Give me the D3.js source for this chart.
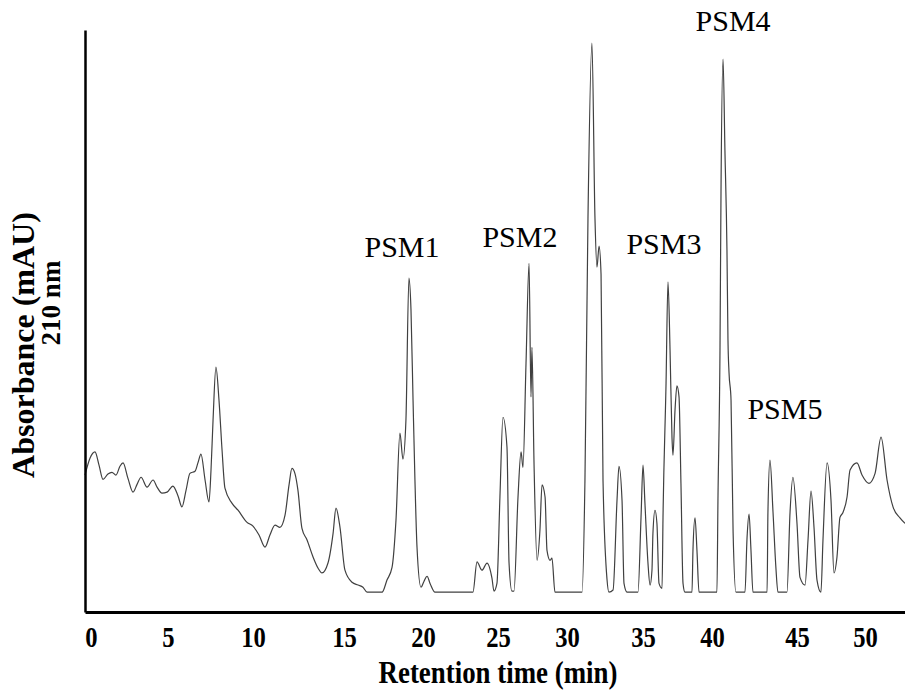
<!DOCTYPE html>
<html>
<head>
<meta charset="utf-8">
<script src="https://cdn.jsdelivr.net/npm/d3@7"></script>
<style>
  html, body { margin: 0; padding: 0; background: #fff; }
  svg { display: block; }
</style>
</head>
<body>
<svg id="chart" width="905" height="693"></svg>
<script>
// ---- data ----
const xTickValues = [0, 5, 10, 15, 20, 25, 30, 35, 40, 45, 50];
const xTickLabels = ["0", "5", "10", "15", "20", "25", "30", "35", "40", "45", "50"];

// retention time (min)
const time = [
  -0.39, -0.06, 0.26, 0.52, 0.78, 1.10, 1.36, 1.62, 1.88, 2.08,
  2.40, 2.73, 2.99, 3.25, 3.64, 4.03, 4.29, 4.61, 4.94, 5.29,
  5.59, 5.82, 6.06, 6.29, 6.59, 6.76, 6.94, 7.18, 7.41, 7.53,
  7.65, 7.82, 8.00, 8.18, 8.35, 8.76, 9.12, 9.65, 10.00, 10.33,
  10.66, 10.93, 11.21, 11.48, 11.76, 11.98, 12.14, 12.31, 12.47, 12.69,
  12.97, 13.30, 13.57, 13.79, 14.12, 14.40, 14.56, 14.78, 15.06, 15.51,
  15.89, 16.20, 16.46, 17.41, 17.72, 18.04, 18.29, 18.54, 18.73, 18.92,
  19.11, 19.24, 19.37, 19.49, 19.62, 19.87, 20.07, 20.27, 20.47, 20.80,
  23.33, 23.60, 23.93, 24.27, 24.60, 24.73, 24.93, 25.14, 25.36, 25.65,
  25.80, 26.01, 26.16, 26.45, 26.67, 26.81, 27.03, 27.25, 27.39, 27.46,
  27.61, 27.83, 28.04, 28.19, 28.41, 28.55, 28.77, 28.91, 29.13, 30.99,
  31.18, 31.38, 31.64, 31.84, 31.97, 32.11, 32.24, 32.37, 32.63, 32.76,
  33.03, 33.29, 33.42, 33.62, 33.75, 33.95, 34.67, 34.87, 35.00, 35.14,
  35.36, 35.51, 35.65, 35.72, 35.87, 36.01, 36.16, 36.38, 36.45, 36.67,
  36.81, 36.96, 37.10, 37.17, 37.32, 37.46, 37.61, 37.75, 37.90, 38.04,
  38.55, 38.62, 38.77, 38.91, 39.06, 40.29, 40.35, 40.47, 40.53, 40.65,
  40.76, 40.88, 40.94, 41.00, 41.12, 41.24, 41.41, 41.94, 42.06, 42.18,
  42.29, 42.41, 43.24, 43.29, 43.41, 43.59, 43.76, 43.88, 44.41, 44.59,
  44.76, 45.00, 45.22, 45.59, 45.81, 46.03, 46.25, 46.47, 46.76, 46.91,
  47.21, 47.50, 47.72, 47.94, 48.16, 48.38, 48.68, 48.90, 49.41, 49.78,
  50.29, 50.74, 51.18, 51.62, 52.06, 52.57, 52.94
];

// absorbance (mAU, relative)
const absorbance = [
  21.3, 24.4, 25.5, 23.1, 20.5, 21.5, 21.8, 21.3, 22.9, 23.5,
  20.7, 18.2, 19.6, 20.9, 19.1, 20.4, 19.1, 18.0, 18.2, 19.3,
  17.5, 15.5, 18.5, 21.6, 22.0, 23.5, 25.1, 20.4, 16.4, 22.2,
  31.3, 40.9, 34.9, 25.8, 18.9, 16.2, 14.9, 12.7, 12.0, 10.4,
  8.2, 10.4, 12.2, 11.8, 14.0, 19.5, 22.5, 21.5, 18.5, 11.6,
  9.5, 6.4, 4.4, 3.5, 5.3, 10.7, 15.3, 11.8, 4.0, 1.8,
  1.3, 0.9, 0.0, 0.0, 2.2, 4.5, 13.1, 28.9, 24.2, 31.3,
  57.1, 51.3, 34.9, 20.4, 8.2, 0.9, 2.0, 2.9, 1.6, 0.0,
  0.0, 5.5, 4.0, 5.3, 2.5, 0.2, 1.6, 17.3, 31.8, 26.4,
  5.3, 0.2, 0.2, 17.3, 25.5, 22.7, 41.6, 59.8, 35.5, 44.5,
  23.5, 5.8, 11.3, 19.5, 17.3, 7.6, 5.8, 6.2, 0.0, 0.0,
  20.2, 68.0, 99.8, 68.0, 59.1, 62.9, 57.8, 20.2, 2.4, 0.0,
  0.4, 16.7, 22.9, 16.7, 1.6, 0.0, 0.0, 13.6, 23.1, 16.2,
  5.3, 1.3, 4.0, 10.7, 14.9, 12.5, 1.6, 0.7, 13.6, 38.0,
  56.4, 44.0, 28.2, 24.9, 33.1, 37.5, 35.5, 19.8, 1.6, 0.0,
  0.0, 7.6, 13.5, 7.6, 0.0, 0.0, 16.7, 44.0, 72.9, 96.9,
  80.4, 62.2, 45.8, 40.0, 34.9, 11.1, 0.0, 0.0, 9.8, 14.2,
  7.8, 0.0, 0.0, 14.5, 24.0, 14.5, 4.4, 0.0, 0.0, 14.5,
  20.9, 12.5, 2.7, 1.3, 9.5, 18.4, 11.8, 2.2, 0.0, 9.5,
  23.5, 16.7, 3.5, 6.4, 13.6, 14.5, 17.3, 22.2, 23.5, 21.3,
  19.8, 21.6, 28.2, 20.4, 15.5, 13.5, 12.5
];

// peak annotations
const peakNames = ["PSM1", "PSM2", "PSM3", "PSM4", "PSM5"];
const peakTime = [18.67, 26.59, 36.52, 41.24, 44.29];
const peakLabelLevel = [60.9, 62.7, 61.5, 102.0, 31.5];

const xTitle = "Retention time (min)";
const yTitle1 = "Absorbance (mAU)";
const yTitle2 = "210 nm";

// ---- drawing ----
const svg = d3.select("#chart");
svg.append("rect").attr("width", 905).attr("height", 693).attr("fill", "#fff");

// piecewise scale: tick labels on the original figure are unevenly spaced
const x = d3.scaleLinear()
  .domain([-0.39, ...xTickValues, 52.94])
  .range([85, 91, 168, 253, 344, 423, 498, 567, 643, 712, 797, 865, 905]);

const y = d3.scaleLinear()
  .domain([-3.6, 102.2])
  .range([612, 30]);

const serif = "'Liberation Serif', 'Times New Roman', serif";

// trace
const pts = time.map((t, i) => [t, absorbance[i]]);
const line = d3.line()
  .x(d => x(d[0]))
  .y(d => y(d[1]))
  .curve(d3.curveMonotoneX);

svg.append("path")
  .datum(pts)
  .attr("d", line)
  .attr("fill", "none")
  .attr("stroke", "#404040")
  .attr("stroke-width", 1.2)
  .attr("stroke-linejoin", "round");

// x axis
const xAxis = svg.append("g")
  .attr("transform", `translate(0,${y(-3.6)})`)
  .call(d3.axisBottom(x)
    .tickValues(xTickValues)
    .tickFormat((d, i) => xTickLabels[i])
    .tickSize(0)
    .tickSizeOuter(0));
xAxis.select(".domain").attr("stroke", "#000").attr("stroke-width", 3);
xAxis.selectAll("text")
  .attr("y", 0)
  .attr("dy", 0)
  .attr("transform", "translate(0,35) scale(0.82,1)")
  .attr("font-family", serif)
  .attr("font-weight", "bold")
  .attr("font-size", 30)
  .attr("fill", "#000");

// y axis
const yAxis = svg.append("g")
  .attr("transform", `translate(${x(-0.39)},0)`)
  .call(d3.axisLeft(y).tickValues([]).tickSize(0).tickSizeOuter(0));
yAxis.select(".domain").attr("stroke", "#000").attr("stroke-width", 2.5);

// axis titles
svg.append("text")
  .attr("transform", "translate(498,683) scale(0.84,1)")
  .attr("text-anchor", "middle")
  .attr("font-family", serif)
  .attr("font-weight", "bold")
  .attr("font-size", 32)
  .text(xTitle);

svg.append("text")
  .attr("transform", "translate(34,345) rotate(-90)")
  .attr("text-anchor", "middle")
  .attr("font-family", serif)
  .attr("font-weight", "bold")
  .attr("font-size", 32)
  .text(yTitle1);

svg.append("text")
  .attr("transform", "translate(60,303) rotate(-90)")
  .attr("text-anchor", "middle")
  .attr("font-family", serif)
  .attr("font-weight", "bold")
  .attr("font-size", 27)
  .text(yTitle2);

// peak labels
svg.selectAll("text.peak")
  .data(peakNames)
  .join("text")
  .attr("class", "peak")
  .attr("x", (d, i) => x(peakTime[i]))
  .attr("y", (d, i) => y(peakLabelLevel[i]))
  .attr("text-anchor", "middle")
  .attr("font-family", serif)
  .attr("font-size", 30)
  .attr("fill", "#000")
  .text(d => d);
</script>
</body>
</html>
